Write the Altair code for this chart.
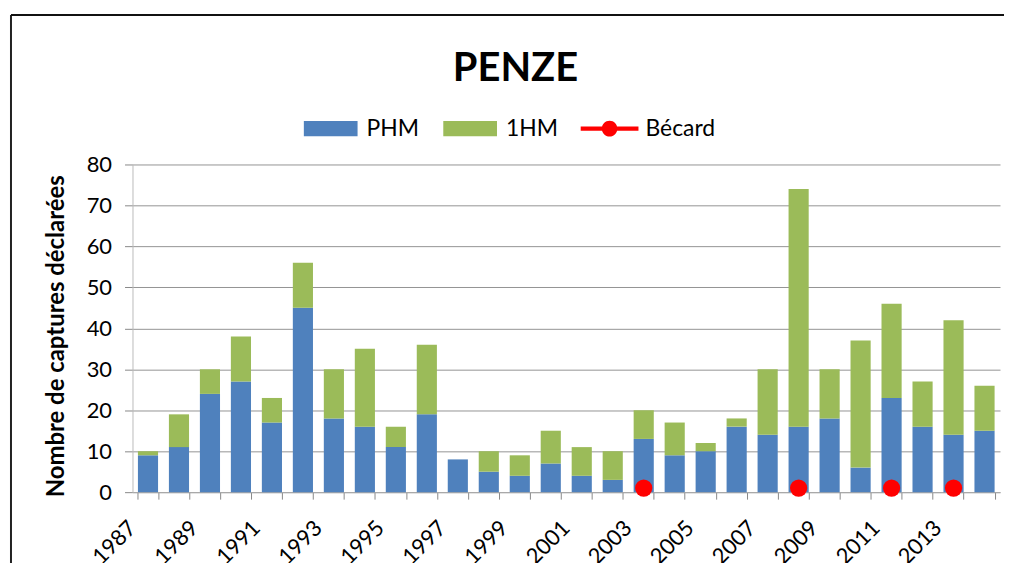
import altair as alt
import pandas as pd

years = list(range(1987, 2015))
phm = [9, 11, 24, 27, 17, 45, 18, 16, 11, 19, 8, 5, 4, 7, 4, 3, 13, 9, 10, 16, 14, 16, 18, 6, 23, 16, 14, 15]
hm1 = [1, 8, 6, 11, 6, 11, 12, 19, 5, 17, 0, 5, 5, 8, 7, 7, 7, 8, 2, 2, 16, 58, 12, 31, 23, 11, 28, 11]
becard = [None] * 16 + [1] + [None] * 4 + [1] + [None] * 2 + [1] + [None] + [1] + [None]

series = ["PHM", "1HM", "Bécard"]
colors = ["#4F81BD", "#9BBB59", "#FF0000"]

rows = []
for y, a, b in zip(years, phm, hm1):
    rows.append({"year": y, "serie": "PHM", "value": a, "order": 0, "color": colors[0]})
    rows.append({"year": y, "serie": "1HM", "value": b, "order": 1, "color": colors[1]})
bars_df = pd.DataFrame(rows)
pts_df = pd.DataFrame([{"year": y, "value": v} for y, v in zip(years, becard) if v is not None])
leg_df = pd.DataFrame({"serie": series})

font = "Lato"

xenc = alt.X(
    "year:O",
    scale=alt.Scale(paddingInner=0.35, paddingOuter=0.175),
    axis=alt.Axis(
        title=None, labelAngle=-45, labelExpr="toNumber(datum.value) % 2 == 1 ? datum.label : ''",
        tickBand="extent", tickSize=7, tickColor="#888888", domainColor="#AAAAAA",
        labelFont=font, labelFontSize=22, labelColor="#000000", labelPadding=18, labelOffset=-23,
        labelOverlap=False,
    ),
)
yaxis = alt.Axis(
    title="Nombre de captures déclarées", titleFont=font, titleFontSize=24, titleFontWeight="bold",
    titleColor="#000000", titlePadding=18, titleY=172,
    values=list(range(0, 81, 10)), labelFont=font, labelFontSize=22, labelColor="#000000",
    tickSize=8, tickColor="#888888", domainColor="#BBBBBB", gridColor="#939393", labelPadding=13,
)
yscale = alt.Scale(domain=[0, 80], nice=False)

bars = alt.Chart(bars_df).mark_bar().encode(
    x=xenc,
    y=alt.Y("value:Q", stack="zero", scale=yscale, axis=yaxis),
    color=alt.Color("color:N", scale=None),
    order=alt.Order("order:Q"),
)

pts = alt.Chart(pts_df).mark_circle(size=300, color="#FF0000", opacity=1).encode(
    x=xenc,
    y=alt.Y("value:Q", scale=yscale, axis=yaxis),
)

rect_path = "M-0.93,-0.26 L0.93,-0.26 L0.93,0.26 L-0.93,0.26 Z"
line_dot = ("M-1,-0.07 L1,-0.07 L1,0.07 L-1,0.07 Z "
            "M-0.27,0 A0.27,0.27 0 1,1 0.27,0 A0.27,0.27 0 1,1 -0.27,0 Z")
leg = alt.Legend(
    title=None, orient="none", legendX=170, legendY=-65, direction="horizontal",
    symbolSize=3364, symbolStrokeWidth=0, symbolOpacity=1, labelFont=font, labelFontSize=23,
    labelColor="#000000", labelOffset=7, columnPadding=22,
)
legend_layer = alt.Chart(leg_df).mark_point(filled=True, opacity=0).encode(
    color=alt.Color("serie:N", scale=alt.Scale(domain=series, range=colors), legend=leg),
    shape=alt.Shape("serie:N", scale=alt.Scale(domain=series, range=[rect_path, rect_path, line_dot]), legend=leg),
)

border = alt.Chart(pd.DataFrame({"k": [0]})).mark_rule(color="#222222", strokeWidth=2).encode(
    x=alt.value(-122), y=alt.value(-150), y2=alt.value(420)
)
border_top = alt.Chart(pd.DataFrame({"k": [0]})).mark_rule(color="#111111", strokeWidth=2).encode(
    x=alt.value(-122), x2=alt.value(920), y=alt.value(-150)
)

chart = alt.layer(bars, pts, legend_layer, border, border_top).properties(
    width=871, height=329,
    autosize=alt.AutoSizeParams(type="none"),
    padding={"left": 125, "top": 156, "right": 4, "bottom": 70},
    title=alt.Title("PENZE", font=font, fontSize=40, fontWeight="bold", color="#000000",
                    anchor="middle", dx=-51, offset=0, dy=75),
).configure_view(stroke=None)

chart.save("out.html", embed_options={"renderer": "svg", "actions": False})
